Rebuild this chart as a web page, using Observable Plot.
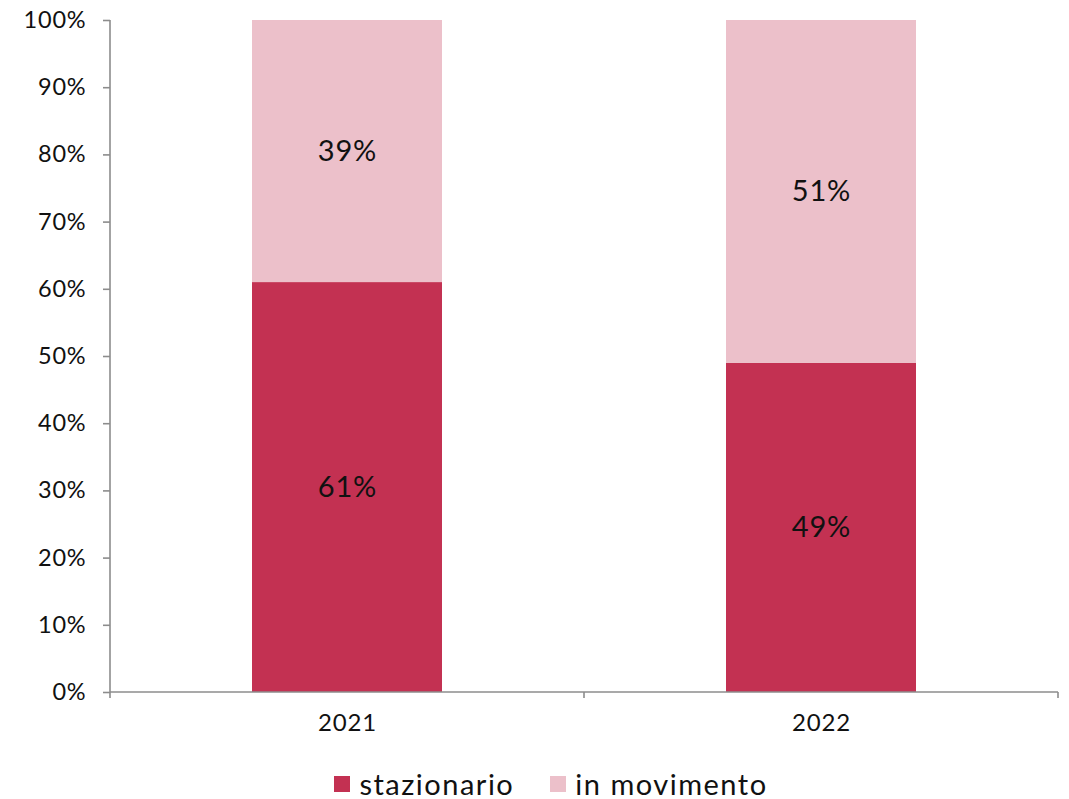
<!DOCTYPE html>
<html>
<head>
<meta charset="utf-8">
<script src="https://cdn.jsdelivr.net/npm/d3@7"></script>
<script src="https://cdn.jsdelivr.net/npm/@observablehq/plot@0.6"></script>
<style>
  html, body { margin: 0; padding: 0; background: #fff; }
  body { width: 1069px; font-family: Lato, "Noto Sans", sans-serif; }
  #chart svg text { letter-spacing: 0.8px; }
  #legend { display: flex; justify-content: center; align-items: center; height: 51px; margin-top: 10px; font-size: 29px; letter-spacing: 1.5px; color: #111; padding-left: 33px; box-sizing: border-box; }
  .item { display: flex; align-items: center; }
  .item + .item { margin-left: 36px; }
  .sw { width: 16px; height: 16px; margin-right: 9px; }
</style>
</head>
<body>
<div id="chart"></div>
<div id="legend"></div>
<script>
const years = ["2021", "2022"];
const series = ["stazionario", "in movimento"];
const colors = ["#C33152", "#ECC0CA"];
const stazionario = [61, 49];
const inMovimento = [39, 51];
const yTicks = [0, 10, 20, 30, 40, 50, 60, 70, 80, 90, 100];

const data = [];
years.forEach((yr, i) => {
  data.push({year: yr, series: series[0], value: stazionario[i]});
  data.push({year: yr, series: series[1], value: inMovimento[i]});
});

const axisColor = "#8c8c8c";

function axisLines(index, scales, values, dims) {
  const x = scales.x, y = scales.y;
  const step = x.step ? x.step() : 474;
  const bw = x.bandwidth ? x.bandwidth() : 189;
  const centers = years.map(d => x(d) + bw / 2);
  const bounds = [centers[0] - step / 2, ...centers.map(c => c + step / 2)];
  const left = dims.marginLeft, right = dims.width - dims.marginRight;
  const y0 = y(0), y1 = y(100);
  const g = d3.create("svg:g").attr("stroke", axisColor).attr("stroke-width", 1.6);
  g.append("line").attr("x1", left).attr("x2", left).attr("y1", y1).attr("y2", y0);
  g.append("line").attr("x1", left).attr("x2", right).attr("y1", y0).attr("y2", y0);
  g.selectAll("line.b").data(bounds).join("line").attr("class", "b")
    .attr("x1", d => d).attr("x2", d => d)
    .attr("y1", y0).attr("y2", y0 + 6);
  return g.node();
}

const chart = Plot.plot({
  width: 1069,
  height: 748,
  marginTop: 20,
  marginLeft: 110,
  marginRight: 11,
  marginBottom: 56,
  style: {fontFamily: "Lato, 'Noto Sans', sans-serif", background: "#fff"},
  x: {domain: years, paddingInner: 0.6, paddingOuter: 0.3, label: null},
  y: {domain: [0, 100], label: null},
  color: {domain: series, range: colors},
  marks: [
    Plot.barY(data, Plot.stackY({x: "year", y: "value", fill: "series", order: series})),
    Plot.text(data, Plot.stackY({x: "year", y: "value", z: "series", order: series, text: d => d.value + "%", fontSize: 29, fill: "#111"})),
    Plot.axisY({ticks: yTicks, tickFormat: d => d + "%", tickSize: 7, tickPadding: 17, fontSize: 23.5, stroke: axisColor, strokeWidth: 1.6, color: "#111"}),
    Plot.axisX({tickSize: 0, tickPadding: 21, fontSize: 24, color: "#111"}),
    axisLines
  ]
});
document.getElementById("chart").appendChild(chart);

const legend = document.getElementById("legend");
series.forEach((s, i) => {
  const it = document.createElement("div");
  it.className = "item";
  const sw = document.createElement("div");
  sw.className = "sw";
  sw.style.background = colors[i];
  const t = document.createElement("span");
  t.textContent = s;
  it.appendChild(sw); it.appendChild(t);
  legend.appendChild(it);
});
</script>
</body>
</html>
